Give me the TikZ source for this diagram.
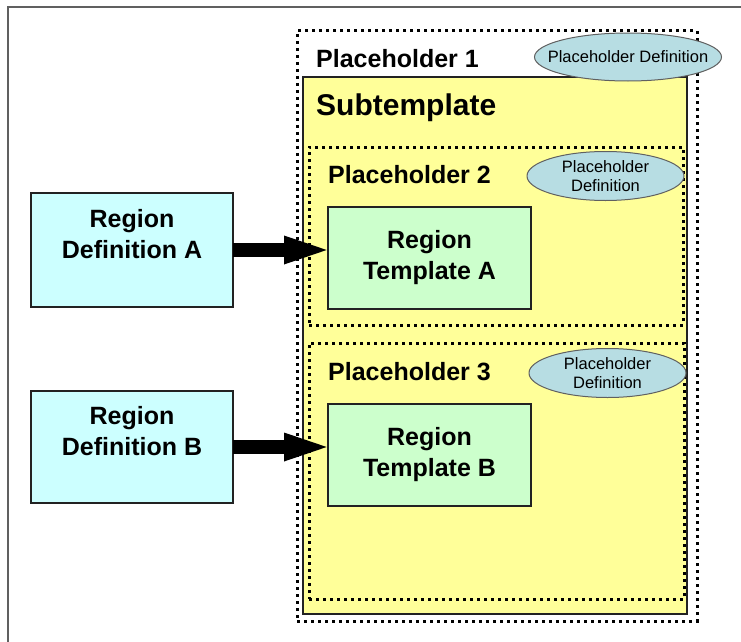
\documentclass[tikz,border=0pt]{standalone}
\usepackage{fontspec}
\setmainfont{Liberation Sans}
\usetikzlibrary{arrows.meta,shapes.geometric,calc}
\definecolor{defcyan}{HTML}{CCFFFF}
\definecolor{tplgreen}{HTML}{CCFFCC}
\definecolor{subyellow}{HTML}{FFFF99}
\definecolor{ellblue}{HTML}{B7DDE3}
\definecolor{framegray}{HTML}{606060}
\definecolor{edgedark}{HTML}{222222}
\tikzset{
  dotbox/.style={draw=black, line width=3pt, dash pattern=on 3pt off 4pt, inner sep=0pt, outer sep=0pt},
  subbox/.style={draw=edgedark, line width=1.4pt, fill=subyellow, inner sep=0pt, outer sep=0pt},
  defbox/.style={draw=edgedark, line width=1.3pt, fill=defcyan, inner sep=0pt, outer sep=0pt},
  tplbox/.style={draw=edgedark, line width=1.3pt, fill=tplgreen, align=center, font=\fontsize{25}{31}\selectfont\bfseries, inner sep=0pt, outer sep=0pt},
  boxtext/.style={align=center, inner sep=0pt, font=\fontsize{25}{31}\selectfont\bfseries},
  phdef/.style={ellipse, draw=framegray, line width=1pt, fill=ellblue, inner sep=0pt},
  phdeftext/.style={align=center, inner sep=0pt, font=\fontsize{16.5}{19}\selectfont},
  phlabel/.style={anchor=base west, inner sep=0pt, font=\fontsize{25}{28}\selectfont\bfseries},
  sublabel/.style={anchor=base west, inner sep=0pt, font=\fontsize{30}{32}\selectfont\bfseries},
  bigarrow/.style={line width=14pt, -{Triangle[length=50pt,width=24pt]}, shorten >=-6pt, black}
}
\begin{document}
\begin{tikzpicture}[x=1pt,y=-1pt]
\useasboundingbox (0,0) rectangle (741,642);
% frame
\coordinate (fTL) at (8,7);
\coordinate (fTR) at (741,7);
\coordinate (fBL) at (8,642);
\draw[framegray, line width=1.4pt] (fTR) -- (fTL) -- (fBL);
% placeholder 1 (outer)
\node[dotbox, minimum width=400pt, minimum height=590pt] (ph1) at (497,326) {};
% subtemplate
\node[subbox, minimum width=384pt, minimum height=537pt] (sub) at (495,345.5) {};
% placeholders 2 and 3
\node[dotbox, minimum width=374pt, minimum height=178pt] (ph2) at (496,236) {};
\node[dotbox, minimum width=375pt, minimum height=256pt] (ph3) at (496.5,471) {};
% region templates
\node[tplbox, minimum width=203pt, minimum height=102pt] (tplA) at (429.5,258) {Region\\Template A};
\node[tplbox, minimum width=203pt, minimum height=102pt] (tplB) at (429.5,455) {Region\\Template B};
% region definitions
\node[defbox, minimum width=202pt, minimum height=114pt] (defA) at (132,250) {};
\node[boxtext] (defAtext) at (132,234) {Region\\Definition A};
\node[defbox, minimum width=202pt, minimum height=112pt] (defB) at (132,447) {};
\node[boxtext] (defBtext) at (132,431) {Region\\Definition B};
% placeholder definitions
\node[phdef, minimum width=187pt, minimum height=48pt] (pd1) at (628,57) {};
\node[phdeftext] (pd1text) at (pd1.center) {Placeholder Definition};
\node[phdef, minimum width=157pt, minimum height=49pt] (pd2) at (605.5,176) {};
\node[phdeftext] (pd2text) at (pd2.center) {Placeholder\\Definition};
\node[phdef, minimum width=157pt, minimum height=49pt] (pd3) at (607.5,373) {};
\node[phdeftext] (pd3text) at (pd3.center) {Placeholder\\Definition};
% labels
\node[phlabel] (l1) at (316,67) {Placeholder 1};
\node[sublabel] (ls) at (316,115) {Subtemplate};
\node[phlabel] (l2) at (328,183) {Placeholder 2};
\node[phlabel] (l3) at (328,380) {Placeholder 3};
% arrows
\draw[bigarrow] (defA.east) -- (defA.east -| tplA.west);
\draw[bigarrow] (defB.east) -- (defB.east -| tplB.west);
\end{tikzpicture}
\end{document}
